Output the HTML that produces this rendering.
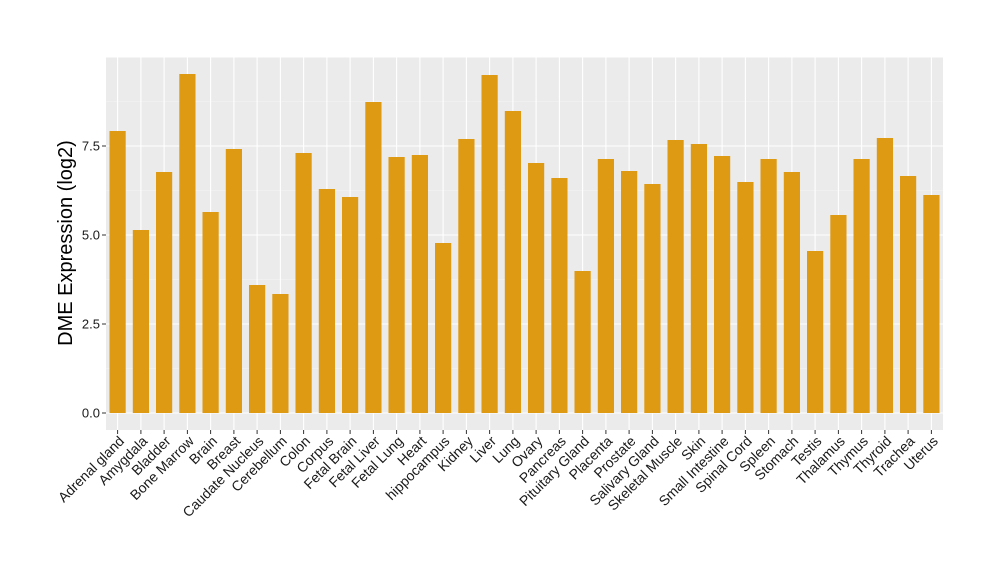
<!DOCTYPE html>
<html><head><meta charset="utf-8"><style>body{margin:0;background:#fff}svg{display:block;font-family:"Liberation Sans",sans-serif}</style></head><body>
<svg width="1000" height="580" viewBox="0 0 1000 580">
<rect x="106" y="57" width="837" height="373" fill="#EBEBEB"/>
<g stroke="#F5F5F5" stroke-width="0.6">
<line x1="106" x2="943" y1="368.5" y2="368.5"/><line x1="106" x2="943" y1="279.5" y2="279.5"/><line x1="106" x2="943" y1="190.5" y2="190.5"/><line x1="106" x2="943" y1="101.5" y2="101.5"/>
</g>
<g stroke="#FFFFFF" stroke-width="1.1">
<line x1="106" x2="943" y1="413" y2="413"/><line x1="106" x2="943" y1="324" y2="324"/><line x1="106" x2="943" y1="235" y2="235"/><line x1="106" x2="943" y1="146" y2="146"/><line x1="106" x2="943" y1="57" y2="57"/>
<line x1="117.6" x2="117.6" y1="57" y2="430"/><line x1="140.9" x2="140.9" y1="57" y2="430"/><line x1="164.1" x2="164.1" y1="57" y2="430"/><line x1="187.4" x2="187.4" y1="57" y2="430"/><line x1="210.6" x2="210.6" y1="57" y2="430"/><line x1="233.9" x2="233.9" y1="57" y2="430"/><line x1="257.1" x2="257.1" y1="57" y2="430"/><line x1="280.4" x2="280.4" y1="57" y2="430"/><line x1="303.6" x2="303.6" y1="57" y2="430"/><line x1="326.9" x2="326.9" y1="57" y2="430"/><line x1="350.1" x2="350.1" y1="57" y2="430"/><line x1="373.4" x2="373.4" y1="57" y2="430"/><line x1="396.6" x2="396.6" y1="57" y2="430"/><line x1="419.9" x2="419.9" y1="57" y2="430"/><line x1="443.1" x2="443.1" y1="57" y2="430"/><line x1="466.4" x2="466.4" y1="57" y2="430"/><line x1="489.6" x2="489.6" y1="57" y2="430"/><line x1="512.9" x2="512.9" y1="57" y2="430"/><line x1="536.1" x2="536.1" y1="57" y2="430"/><line x1="559.4" x2="559.4" y1="57" y2="430"/><line x1="582.6" x2="582.6" y1="57" y2="430"/><line x1="605.9" x2="605.9" y1="57" y2="430"/><line x1="629.1" x2="629.1" y1="57" y2="430"/><line x1="652.4" x2="652.4" y1="57" y2="430"/><line x1="675.6" x2="675.6" y1="57" y2="430"/><line x1="698.9" x2="698.9" y1="57" y2="430"/><line x1="722.1" x2="722.1" y1="57" y2="430"/><line x1="745.4" x2="745.4" y1="57" y2="430"/><line x1="768.6" x2="768.6" y1="57" y2="430"/><line x1="791.9" x2="791.9" y1="57" y2="430"/><line x1="815.1" x2="815.1" y1="57" y2="430"/><line x1="838.4" x2="838.4" y1="57" y2="430"/><line x1="861.6" x2="861.6" y1="57" y2="430"/><line x1="884.9" x2="884.9" y1="57" y2="430"/><line x1="908.1" x2="908.1" y1="57" y2="430"/><line x1="931.4" x2="931.4" y1="57" y2="430"/>
</g>
<g fill="#DE9A12">
<rect x="109.5" y="131" width="16.2" height="282"/>
<rect x="132.8" y="230" width="16.2" height="183"/>
<rect x="156" y="172" width="16.2" height="241"/>
<rect x="179.3" y="74" width="16.2" height="339"/>
<rect x="202.5" y="212" width="16.2" height="201"/>
<rect x="225.8" y="149" width="16.2" height="264"/>
<rect x="249" y="285" width="16.2" height="128"/>
<rect x="272.3" y="294" width="16.2" height="119"/>
<rect x="295.5" y="153" width="16.2" height="260"/>
<rect x="318.8" y="189" width="16.2" height="224"/>
<rect x="342" y="197" width="16.2" height="216"/>
<rect x="365.3" y="102" width="16.2" height="311"/>
<rect x="388.5" y="157" width="16.2" height="256"/>
<rect x="411.8" y="155" width="16.2" height="258"/>
<rect x="435" y="243" width="16.2" height="170"/>
<rect x="458.3" y="139" width="16.2" height="274"/>
<rect x="481.5" y="75" width="16.2" height="338"/>
<rect x="504.8" y="111" width="16.2" height="302"/>
<rect x="528" y="163" width="16.2" height="250"/>
<rect x="551.3" y="178" width="16.2" height="235"/>
<rect x="574.5" y="271" width="16.2" height="142"/>
<rect x="597.8" y="159" width="16.2" height="254"/>
<rect x="621" y="171" width="16.2" height="242"/>
<rect x="644.3" y="184" width="16.2" height="229"/>
<rect x="667.5" y="140" width="16.2" height="273"/>
<rect x="690.8" y="144" width="16.2" height="269"/>
<rect x="714" y="156" width="16.2" height="257"/>
<rect x="737.3" y="182" width="16.2" height="231"/>
<rect x="760.5" y="159" width="16.2" height="254"/>
<rect x="783.8" y="172" width="16.2" height="241"/>
<rect x="807" y="251" width="16.2" height="162"/>
<rect x="830.3" y="215" width="16.2" height="198"/>
<rect x="853.5" y="159" width="16.2" height="254"/>
<rect x="876.8" y="138" width="16.2" height="275"/>
<rect x="900" y="176" width="16.2" height="237"/>
<rect x="923.3" y="195" width="16.2" height="218"/>
</g>
<g stroke="#333" stroke-width="1">
<line x1="102" x2="106" y1="413" y2="413"/><line x1="102" x2="106" y1="324" y2="324"/><line x1="102" x2="106" y1="235" y2="235"/><line x1="102" x2="106" y1="146" y2="146"/>
<line x1="117.6" x2="117.6" y1="430" y2="434"/><line x1="140.9" x2="140.9" y1="430" y2="434"/><line x1="164.1" x2="164.1" y1="430" y2="434"/><line x1="187.4" x2="187.4" y1="430" y2="434"/><line x1="210.6" x2="210.6" y1="430" y2="434"/><line x1="233.9" x2="233.9" y1="430" y2="434"/><line x1="257.1" x2="257.1" y1="430" y2="434"/><line x1="280.4" x2="280.4" y1="430" y2="434"/><line x1="303.6" x2="303.6" y1="430" y2="434"/><line x1="326.9" x2="326.9" y1="430" y2="434"/><line x1="350.1" x2="350.1" y1="430" y2="434"/><line x1="373.4" x2="373.4" y1="430" y2="434"/><line x1="396.6" x2="396.6" y1="430" y2="434"/><line x1="419.9" x2="419.9" y1="430" y2="434"/><line x1="443.1" x2="443.1" y1="430" y2="434"/><line x1="466.4" x2="466.4" y1="430" y2="434"/><line x1="489.6" x2="489.6" y1="430" y2="434"/><line x1="512.9" x2="512.9" y1="430" y2="434"/><line x1="536.1" x2="536.1" y1="430" y2="434"/><line x1="559.4" x2="559.4" y1="430" y2="434"/><line x1="582.6" x2="582.6" y1="430" y2="434"/><line x1="605.9" x2="605.9" y1="430" y2="434"/><line x1="629.1" x2="629.1" y1="430" y2="434"/><line x1="652.4" x2="652.4" y1="430" y2="434"/><line x1="675.6" x2="675.6" y1="430" y2="434"/><line x1="698.9" x2="698.9" y1="430" y2="434"/><line x1="722.1" x2="722.1" y1="430" y2="434"/><line x1="745.4" x2="745.4" y1="430" y2="434"/><line x1="768.6" x2="768.6" y1="430" y2="434"/><line x1="791.9" x2="791.9" y1="430" y2="434"/><line x1="815.1" x2="815.1" y1="430" y2="434"/><line x1="838.4" x2="838.4" y1="430" y2="434"/><line x1="861.6" x2="861.6" y1="430" y2="434"/><line x1="884.9" x2="884.9" y1="430" y2="434"/><line x1="908.1" x2="908.1" y1="430" y2="434"/><line x1="931.4" x2="931.4" y1="430" y2="434"/>
</g>
<g font-size="13" fill="#1A1A1A" text-anchor="end">
<text x="100" y="417.5">0.0</text><text x="100" y="328.5">2.5</text><text x="100" y="239.5">5.0</text><text x="100" y="150.5">7.5</text>
</g>
<text transform="translate(72,243) rotate(-90)" font-size="20" text-anchor="middle" fill="#000">DME Expression (log2)</text>
<g font-size="14" fill="#1A1A1A" text-anchor="end">
<text transform="translate(125,442) rotate(-45)">Adrenal gland</text>
<text transform="translate(148.3,442) rotate(-45)">Amygdala</text>
<text transform="translate(171.5,442) rotate(-45)">Bladder</text>
<text transform="translate(194.8,442) rotate(-45)">Bone Marrow</text>
<text transform="translate(218,442) rotate(-45)">Brain</text>
<text transform="translate(241.3,442) rotate(-45)">Breast</text>
<text transform="translate(264.5,442) rotate(-45)">Caudate Nucleus</text>
<text transform="translate(287.8,442) rotate(-45)">Cerebellum</text>
<text transform="translate(311,442) rotate(-45)">Colon</text>
<text transform="translate(334.3,442) rotate(-45)">Corpus</text>
<text transform="translate(357.5,442) rotate(-45)">Fetal Brain</text>
<text transform="translate(380.8,442) rotate(-45)">Fetal Liver</text>
<text transform="translate(404,442) rotate(-45)">Fetal Lung</text>
<text transform="translate(427.3,442) rotate(-45)">Heart</text>
<text transform="translate(450.5,442) rotate(-45)">hippocampus</text>
<text transform="translate(473.8,442) rotate(-45)">Kidney</text>
<text transform="translate(497,442) rotate(-45)">Liver</text>
<text transform="translate(520.3,442) rotate(-45)">Lung</text>
<text transform="translate(543.5,442) rotate(-45)">Ovary</text>
<text transform="translate(566.8,442) rotate(-45)">Pancreas</text>
<text transform="translate(590,442) rotate(-45)">Pituitary Gland</text>
<text transform="translate(613.3,442) rotate(-45)">Placenta</text>
<text transform="translate(636.5,442) rotate(-45)">Prostate</text>
<text transform="translate(659.8,442) rotate(-45)">Salivary Gland</text>
<text transform="translate(683,442) rotate(-45)">Skeletal Muscle</text>
<text transform="translate(706.3,442) rotate(-45)">Skin</text>
<text transform="translate(729.5,442) rotate(-45)">Small Intestine</text>
<text transform="translate(752.8,442) rotate(-45)">Spinal Cord</text>
<text transform="translate(776,442) rotate(-45)">Spleen</text>
<text transform="translate(799.3,442) rotate(-45)">Stomach</text>
<text transform="translate(822.5,442) rotate(-45)">Testis</text>
<text transform="translate(845.8,442) rotate(-45)">Thalamus</text>
<text transform="translate(869,442) rotate(-45)">Thymus</text>
<text transform="translate(892.3,442) rotate(-45)">Thyroid</text>
<text transform="translate(915.5,442) rotate(-45)">Trachea</text>
<text transform="translate(938.8,442) rotate(-45)">Uterus</text>
</g>
</svg>
</body></html>
